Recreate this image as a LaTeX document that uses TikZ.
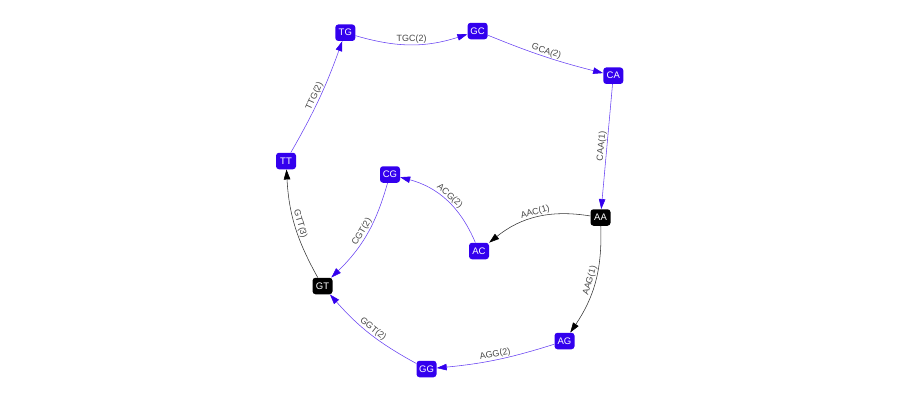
\documentclass[tikz,border=0pt]{standalone}
\usepackage{fontspec}
\setmainfont{Liberation Sans}
\usetikzlibrary{arrows.meta}
\definecolor{nodeblue}{RGB}{51,0,238}
\definecolor{labelgray}{RGB}{72,72,72}
\begin{document}
\begin{tikzpicture}[x=1pt, y=-1pt,
      every node/.style = {shape=rectangle, rounded corners=3pt, fill=nodeblue, text=white, font=\fontsize{9.5}{10}\selectfont, minimum width=20pt, minimum height=16.5pt, inner sep=1pt},
      hub/.style = {fill=black},
      link/.style = {draw=nodeblue!75, line width=0.55pt, -{Triangle[length=10pt,width=6.5pt,color=nodeblue]}},
      hublink/.style = {draw=black!80, line width=0.55pt, -{Triangle[length=10pt,width=6.5pt,color=black]}},
      lbl/.style = {fill=none, text=labelgray, font=\fontsize{9}{10}\selectfont, sloped, above, inner sep=0.8pt, minimum width=0pt, minimum height=0pt, rounded corners=0pt}
      ]
      \useasboundingbox (0,0) rectangle (900,400);
      \node (TG) at (345.3,32.7) {TG};
      \node (GC) at (477.6,31) {GC};
      \node (CA) at (613.3,75.7) {CA};
      \node[hub] (AA) at (600.5,217.5) {AA};
      \node (AC) at (479,251) {AC};
      \node (CG) at (390,174.5) {CG};
      \node (TT) at (286,161) {TT};
      \node[hub] (GT) at (322.5,286) {GT};
      \node (GG) at (426.5,369) {GG};
      \node (AG) at (564.5,341) {AG};

      \draw[link] (TG) to[bend right=17] node[lbl] {TGC(2)} (GC);
      \draw[link] (GC) to[bend right=4] node[lbl] {GCA(2)} (CA);
      \draw[link] (CA) to node[lbl] {CAA(1)} (AA);
      \draw[hublink] (AA) to[bend right=24] node[lbl] {AAC(1)} (AC);
      \draw[link] (AC) to[bend right=26] node[lbl] {ACG(2)} (CG);
      \draw[link] (CG) to[bend left=15] node[lbl] {CGT(2)} (GT);
      \draw[hublink] (GT) to[bend left=13] node[lbl] {GTT(3)} (TT);
      \draw[link] (TT) to[bend right=5] node[lbl] {TTG(2)} (TG);
      \draw[hublink] (AA) to[bend left=18] node[lbl] {AAG(1)} (AG);
      \draw[link] (AG) to[bend left=6] node[lbl] {AGG(2)} (GG);
      \draw[link] (GG) to[bend left=10] node[lbl] {GGT(2)} (GT);
\end{tikzpicture}
\end{document}
